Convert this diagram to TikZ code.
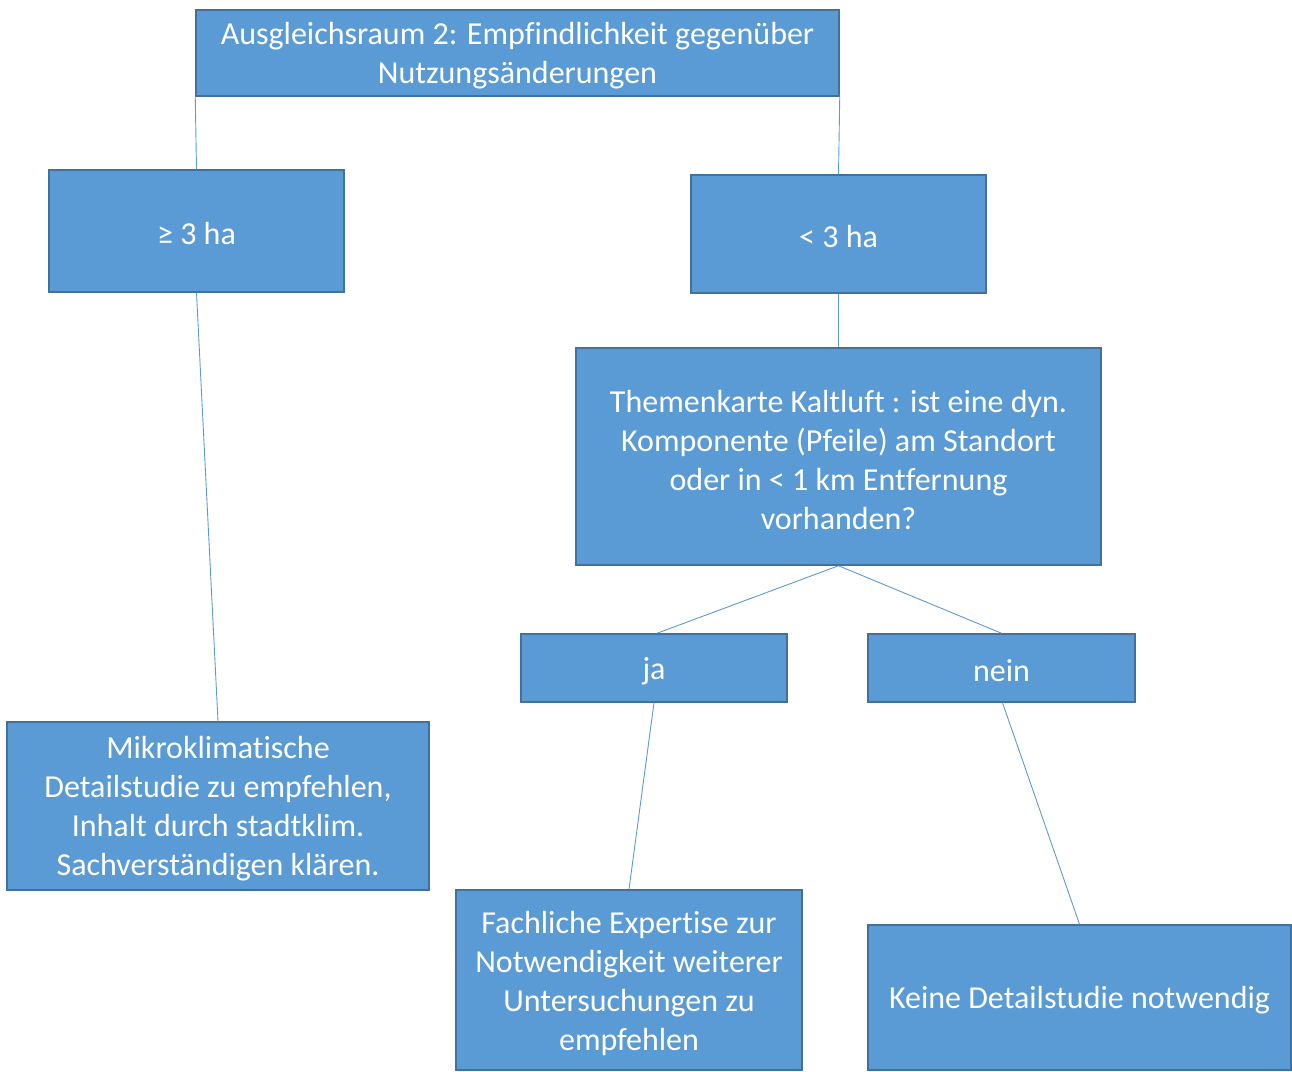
\documentclass[tikz,border=0pt]{standalone}
\usepackage{fontspec}
\setmainfont{Carlito}[RawFeature={-liga;-clig;-calt;-dlig}]
\definecolor{boxfill}{HTML}{5B9BD5}
\definecolor{boxline}{HTML}{41719C}
\definecolor{linkline}{HTML}{5B9BD5}
\begin{document}
\begin{tikzpicture}[x=1pt,y=-1pt,
  box/.style={draw=boxline,line width=1.5pt,fill=boxfill,inner sep=0pt},
  boxtext/.style={text=white,align=center,inner sep=0pt,font=\fontsize{32}{39}\selectfont},
  link/.style={draw=linkline,line width=0.9pt}]
\useasboundingbox (0,0) rectangle (1292,1071);
% boxes given by their corners, with the text set slightly below the centre
\newcommand{\mybox}[6]{%
  \node[box,minimum width={#4-#2},minimum height={#5-#3}] (#1) at ({(#2+#4)/2},{(#3+#5)/2}) {};
  \node[boxtext] (#1-text) at ([yshift=-3pt]#1.center) {#6};}
\mybox{top}{196}{10}{839}{96}{Ausgleichsraum 2: Empfindlichkeit gegenüber\\Nutzungsänderungen}
\mybox{ge}{49}{170}{344}{292}{≥ 3 ha}
\mybox{lt}{691}{175}{986}{293}{< 3 ha}
\mybox{them}{576}{348}{1101}{565}{Themenkarte Kaltluft : ist eine dyn.\\Komponente (Pfeile) am Standort\\oder in < 1 km Entfernung\\vorhanden?}
\mybox{ja}{521}{634}{787}{702}{ja}
\mybox{nein}{868}{634}{1135}{702}{nein}
\mybox{mik}{7}{722}{429}{890}{Mikroklimatische\\Detailstudie zu empfehlen,\\Inhalt durch stadtklim.\\Sachverständigen klären.}
\mybox{fach}{456}{890}{802}{1070}{Fachliche Expertise zur\\Notwendigkeit weiterer\\Untersuchungen zu\\empfehlen}
\mybox{keine}{868}{925}{1291}{1070}{Keine Detailstudie notwendig}
% connectors
\draw[link] (top.south west) -- (ge.north);
\draw[link] (top.south east) -- (lt.north);
\draw[link] (ge.south) -- (mik.north);
\draw[link] (lt.south) -- (them.north);
\draw[link] (them.south) -- ([xshift=3pt]ja.north);
\draw[link] (them.south) -- (nein.north);
\draw[link] (ja.south) -- (fach.north);
\draw[link] ([xshift=1pt]nein.south) -- (keine.north);
\end{tikzpicture}
\end{document}
